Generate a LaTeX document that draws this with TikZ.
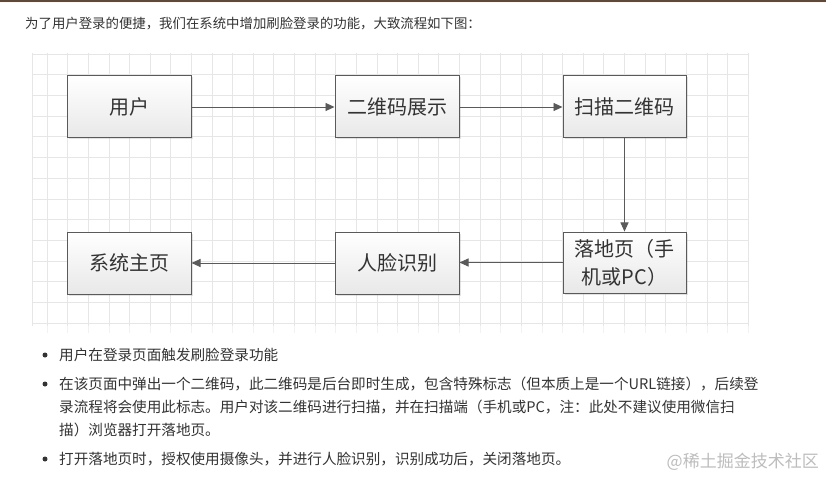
\documentclass[tikz,border=0pt]{standalone}
\usepackage{fontspec}
\newfontfamily\cjk{Noto Sans CJK SC}
\usetikzlibrary{arrows.meta,shadows}
\definecolor{boxline}{HTML}{5A5A5A}
\definecolor{txt}{HTML}{333333}
\definecolor{gridc}{HTML}{E6E6E6}
\definecolor{topbar}{HTML}{5E4A3C}
\definecolor{wm}{HTML}{BDBDBD}
\tikzset{
  flowbox/.style={draw=boxline, line width=1pt, top color=white, bottom color=black!9,
    minimum width=124pt, minimum height=62pt, inner sep=2pt, text=txt,
    font=\cjk\fontsize{20}{28}\selectfont, align=center,
    drop shadow={shadow xshift=1.5pt, shadow yshift=-1.5pt, opacity=0.22}},
  conn/.style={draw=boxline, line width=0.9pt, -{Triangle[length=9pt,width=8pt]}},
  gridline/.style={draw=gridc, line width=0.7pt},
  bodytext/.style={anchor=west, inner sep=0pt, text=txt, font=\cjk\fontsize{14.6}{18}\selectfont},
  bulletdot/.style={circle, fill=txt, inner sep=0pt, minimum size=5pt}
}
\begin{document}
\begin{tikzpicture}[x=1pt,y=-1pt]
\useasboundingbox (0,0) rectangle (826,478);
\fill[white] (0,0) rectangle (826,478);
\fill[topbar] (0,0) rectangle (826,1.8);
\fill[orange!6] (0,1.8) rectangle (826,3.5);

% top sentence
\node[anchor=west, inner sep=0pt, text=txt, font=\cjk\fontsize{13.4}{16}\selectfont] (intro) at (25,24) {为了用户登录的便捷，我们在系统中增加刷脸登录的功能，大致流程如下图：};

% grid
\draw[gridline] (32,53) -- (32,326);
\foreach \i in {0,...,34} \draw[gridline] ({47+20.62*\i},53) -- ({47+20.62*\i},326);
\foreach \i in {0,...,34} \draw[draw=gridc!50, line width=0.7pt] ({47+20.62*\i},326) -- ({47+20.62*\i},333);
\foreach \j in {0,...,13} \draw[gridline] (32,{54+20.7*\j}) -- (748,{54+20.7*\j});

% boxes
\node[flowbox] (user) at (129,107) {用户};
\node[flowbox] (qr) at (397,107) {二维码展示};
\node[flowbox, minimum width=123pt] (scan) at (624.5,107) {扫描二维码};
\node[flowbox] (home) at (129,263) {系统主页};
\node[flowbox] (face) at (397,263) {人脸识别};
\node[flowbox, minimum width=123pt, minimum height=61pt] (land) at (624.5,262.5) {落地页（手\\机或PC）};

% connectors
\draw[conn] (user.east) -- (qr.west);
\draw[conn] (qr.east) -- (scan.west);
\draw[conn] (scan.south) -- (land.north);
\draw[conn] (land.west) -- (face.east |- land.west);
\draw[conn] (face.west) -- (home.east |- face.west);

% bullets
\node[bulletdot] (b1) at (45,355) {};
\node[bodytext] (t1) at (59,355) {用户在登录页面触发刷脸登录功能};
\node[bulletdot] (b2) at (45,384) {};
\node[bodytext] (t2a) at (59,384) {在该页面中弹出一个二维码，此二维码是后台即时生成，包含特殊标志（但本质上是一个URL链接），后续登};
\node[bodytext] (t2b) at (59,407) {录流程将会使用此标志。用户对该二维码进行扫描，并在扫描端（手机或PC，注：此处不建议使用微信扫};
\node[bodytext] (t2c) at (59,430) {描）浏览器打开落地页。};
\node[bulletdot] (b3) at (45,459) {};
\node[bodytext] (t3) at (59,459) {打开落地页时，授权使用摄像头，并进行人脸识别，识别成功后，关闭落地页。};

% watermark
\node[anchor=east, inner sep=0pt, text=wm, font=\cjk\fontsize{17}{20}\selectfont] (wmark) at (819,462) {@稀土掘金技术社区};
\end{tikzpicture}
\end{document}
